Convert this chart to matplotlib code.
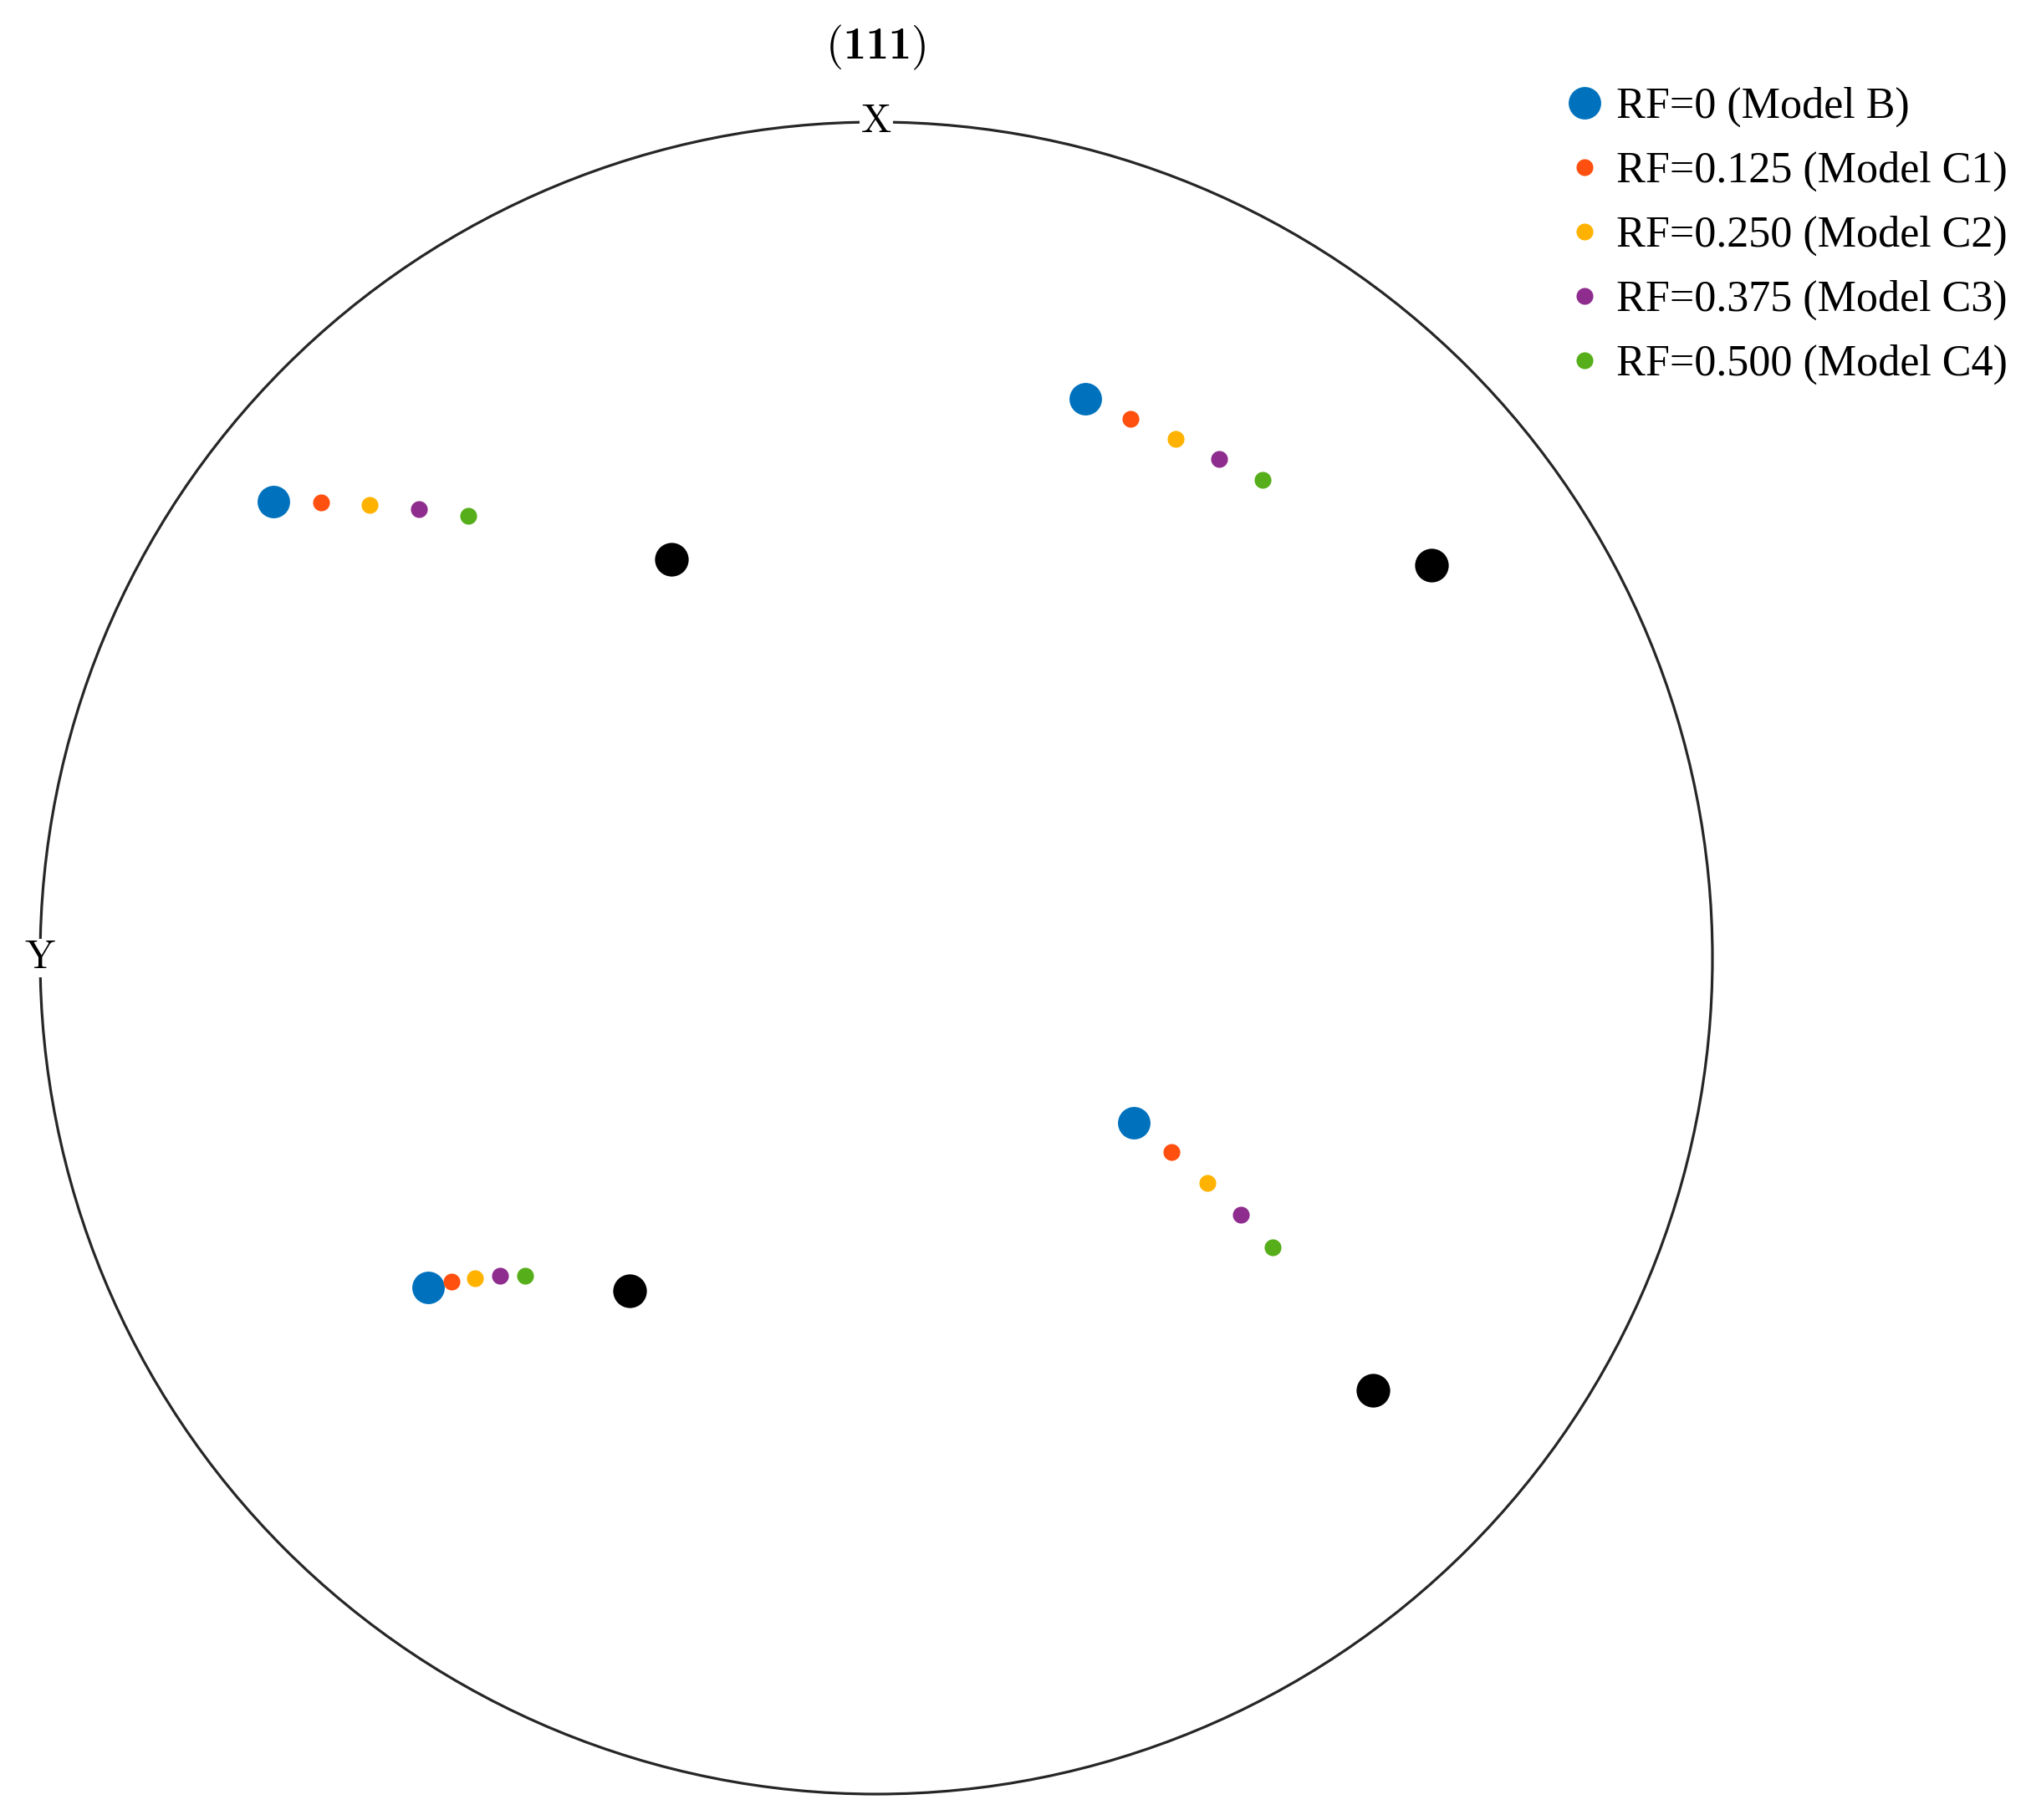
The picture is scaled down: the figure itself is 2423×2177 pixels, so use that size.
import matplotlib
matplotlib.use("Agg")
import matplotlib.pyplot as plt
from matplotlib.patches import Circle

plt.rcParams["font.family"] = ["Liberation Serif", "DejaVu Serif"]
plt.rcParams["mathtext.fontset"] = "cm"
plt.rcParams["mathtext.rm"] = "cmr10"
plt.rcParams["mathtext.bf"] = "cmb10"

# pole figure coordinates (unit circle), 4 poles
labels = ["RF=0 (Model B)", "RF=0.125 (Model C1)", "RF=0.250 (Model C2)",
          "RF=0.375 (Model C3)", "RF=0.500 (Model C4)"]
colors = ["#0072BD", "#FF5010", "#FFB300", "#8E2D8E", "#57AE1B"]

x_rf0 = [-0.721, 0.250, -0.536, 0.308]
y_rf0 = [0.546, 0.669, -0.394, -0.197]
x_rf125 = [-0.664, 0.304, -0.508, 0.353]
y_rf125 = [0.545, 0.645, -0.387, -0.232]
x_rf250 = [-0.606, 0.358, -0.480, 0.396]
y_rf250 = [0.542, 0.621, -0.383, -0.269]
x_rf375 = [-0.547, 0.410, -0.450, 0.436]
y_rf375 = [0.537, 0.597, -0.380, -0.307]
x_rf500 = [-0.488, 0.462, -0.420, 0.474]
y_rf500 = [0.529, 0.572, -0.380, -0.346]

# reference orientation (black)
x_ref = [-0.245, 0.664, -0.295, 0.594]
y_ref = [0.477, 0.470, -0.398, -0.517]

xs = [x_rf0, x_rf125, x_rf250, x_rf375, x_rf500]
ys = [y_rf0, y_rf125, y_rf250, y_rf375, y_rf500]
sizes = [28, 14.5, 14.5, 14.5, 14.5]

W, H = 2423, 2177
fig = plt.figure(figsize=(W / 100, H / 100), dpi=100)
ax = fig.add_axes([48 / W, (H - 2146) / H, 2000 / W, 2000 / H])
ax.set_xlim(-1, 1)
ax.set_ylim(-1, 1)
ax.axis("off")

ax.add_patch(Circle((0, 0), 1, fill=False, ec="#262626", lw=2.3, clip_on=False))

ax.plot(x_ref, y_ref, "o", color="black", ms=29, mew=0, ls="none")
for x, y, c, s, lab in zip(xs, ys, colors, sizes, labels):
    ax.plot(x, y, "o", color=c, ms=s, mew=0, ls="none", label=lab)

ax.text(0, 1, r"$\mathrm{X}$", fontsize=35, ha="center", va="center",
        bbox=dict(fc="white", ec="none", pad=1), zorder=5)
ax.text(-1, 0, r"$\mathrm{Y}$", fontsize=35, ha="center", va="center",
        bbox=dict(fc="white", ec="none", pad=1), zorder=5)

fig.text(1047 / W, 1 - 57 / H, r"$(\mathbf{111})$", fontsize=39,
         ha="center", va="center", math_fontfamily="custom")

fig.legend(loc="center left", bbox_to_anchor=(1874 / W, 1 - 282 / H),
           frameon=False, fontsize=37.5, numpoints=1, handlelength=0.8,
           handletextpad=0.33, labelspacing=0.55, borderpad=0, borderaxespad=0)

fig.savefig("out.png", dpi=100)
